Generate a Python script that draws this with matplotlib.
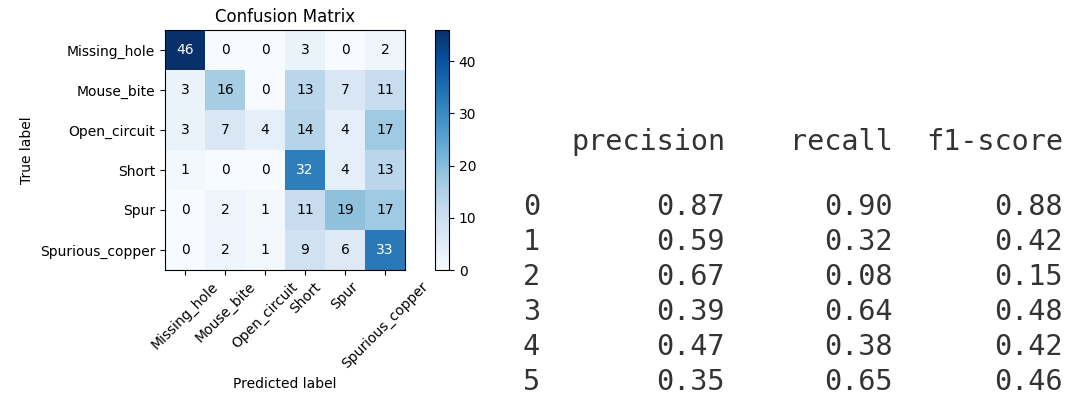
import numpy as np
import matplotlib
matplotlib.use("Agg")
import matplotlib.pyplot as plt


classes = ["Missing_hole", "Mouse_bite", "Open_circuit", "Short", "Spur", "Spurious_copper"]

cm = np.array([
    [46, 0, 0, 3, 0, 2],
    [3, 16, 0, 13, 7, 11],
    [3, 7, 4, 14, 4, 17],
    [1, 0, 0, 32, 4, 13],
    [0, 2, 1, 11, 19, 17],
    [0, 2, 1, 9, 6, 33],
])

report_headers = ["precision", "recall", "f1-score"]
report_rows = ["0", "1", "2", "3", "4", "5"]
precision = [0.87, 0.59, 0.67, 0.39, 0.47, 0.35]
recall = [0.90, 0.32, 0.08, 0.64, 0.38, 0.65]
f1_score = [0.88, 0.42, 0.15, 0.48, 0.42, 0.46]


W, H = 1071, 400
fig = plt.figure(figsize=(W / 100, H / 100), dpi=100)


def fx(px):
    return px / W


def fy(py):
    return 1 - py / H


# confusion matrix
ax = fig.add_axes([fx(165), fy(270), fx(240), 240 / H])
cax = fig.add_axes([fx(435), fy(270), fx(14), 240 / H])

im = ax.imshow(cm, interpolation="nearest", cmap=plt.cm.Blues, aspect="auto")
ax.set_title("Confusion Matrix", fontsize=12)
cb = fig.colorbar(im, cax=cax)
cb.set_ticks([0, 10, 20, 30, 40])
cb.ax.tick_params(labelsize=10)

tick_marks = np.arange(len(classes))
ax.set_xticks(tick_marks)
ax.set_xticklabels(classes, rotation=45, fontsize=10)
ax.set_yticks(tick_marks)
ax.set_yticklabels(classes, fontsize=10)

thresh = cm.max() / 2.0
for i in range(cm.shape[0]):
    for j in range(cm.shape[1]):
        ax.text(j, i, format(cm[i, j], "d"),
                ha="center", va="center", fontsize=10,
                color="white" if cm[i, j] > thresh else "black")

ax.set_ylabel("True label", fontsize=10)
ax.set_xlabel("Predicted label", fontsize=10)

# classification report text
mono = dict(family="DejaVu Sans Mono", fontsize=20.5, color="#333333")
col_right = [725, 893, 1063]
for x, name in zip(col_right, report_headers):
    fig.text(fx(x), fy(142), name, ha="right", va="center", **mono)

columns = [precision, recall, f1_score]
for i, label in enumerate(report_rows):
    y = 207 + 35 * i
    fig.text(fx(523), fy(y), label, ha="left", va="center", **mono)
    for x, vals in zip(col_right, columns):
        fig.text(fx(x), fy(y), f"{vals[i]:.2f}", ha="right", va="center", **mono)

fig.savefig("out.png", dpi=100, facecolor="white")
